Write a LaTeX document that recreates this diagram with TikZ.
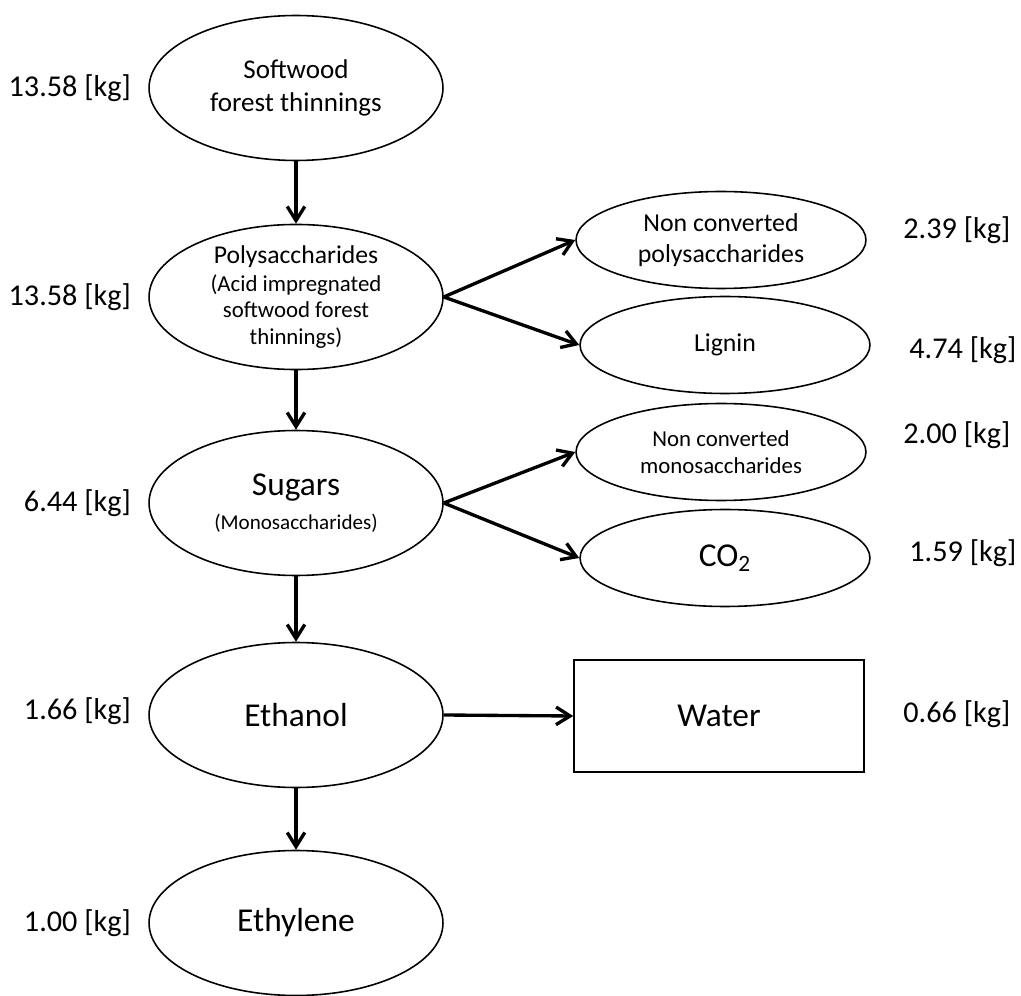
\documentclass[tikz,border=0pt]{standalone}
\usepackage{fontspec}
\setmainfont{Carlito}
\usetikzlibrary{positioning,shapes.geometric,arrows.meta}

\begin{document}
\begin{tikzpicture}[
  x=0.02cm, y=-0.02cm,
  stage/.style={draw, ellipse, line width=0.9pt, inner sep=0pt, minimum width=5.88cm, minimum height=2.9cm, align=center},
  side/.style={draw, ellipse, line width=0.9pt, inner sep=0pt, minimum width=5.8cm, minimum height=1.94cm, align=center},
  tank/.style={draw, rectangle, line width=0.9pt, inner sep=0pt, minimum width=5.8cm, minimum height=2.24cm},
  mass/.style={inner sep=0pt, font=\fontsize{17.2}{20}\selectfont},
  big/.style={font=\fontsize{19}{23}\selectfont},
  mid/.style={font=\fontsize{14.7}{18}\selectfont},
  small/.style={font=\fontsize{13}{15.5}\selectfont},
  arrow/.style={-{Straight Barb[length=8pt,width=10pt]}, line width=1.9pt}
]
\useasboundingbox (0,0) rectangle (1021,996);

% Main chain
\node[stage, font=\fontsize{15.4}{19}\selectfont] (soft) at (296,88) {Softwood\\forest thinnings};
\node[stage, font=\fontsize{13}{15}\selectfont] (poly) at (296,297)
  {\fontsize{14.6}{17}\selectfont Polysaccharides\\[1pt]
   (Acid impregnated\\softwood forest\\thinnings)};
\node[stage, font=\fontsize{12}{19.5}\selectfont] (sugar) at (296,503)
  {\fontsize{19}{23}\selectfont Sugars\\(Monosaccharides)};
\node[stage, big] (eth) at (296,715) {Ethanol};
\node[stage, big] (ethyl) at (296,923) {Ethylene};

% Side streams
\node[side, mid] (ncp) at (721,240) {Non converted\\polysaccharides};
\node[side, mid] (lig) at (725,345) {Lignin};
\node[side, small] (nmc) at (721,452) {Non converted\\monosaccharides};
\node[side, big] (co2) at (725,558) {CO\textsubscript{2}};
\node[tank, big] (water) at (719,716) {Water};

% Masses
\node[mass, left=0.34cm of soft] (msoft) {13.58 [kg]};
\node[mass, left=0.34cm of poly] (mpoly) {13.58 [kg]};
\node[mass, left=0.34cm of sugar] (msugar) {6.44 [kg]};
\node[mass, left=0.34cm of eth, yshift=2pt] (meth) {1.66 [kg]};
\node[mass, left=0.34cm of ethyl] (methyl) {1.00 [kg]};
\node[mass, anchor=west] (mncp) at (903,230) {2.39 [kg]};
\node[mass, anchor=west] (mlig) at (909,350) {4.74 [kg]};
\node[mass, anchor=west] (mnmc) at (903,435) {2.00 [kg]};
\node[mass, anchor=west] (mco2) at (909,553) {1.59 [kg]};
\node[mass, anchor=west] (mwater) at (903,714) {0.66 [kg]};

% Arrows
\draw[arrow] (soft.south) -- (poly.north);
\draw[arrow] (poly.south) -- (sugar.north);
\draw[arrow] (sugar.south) -- (eth.north);
\draw[arrow] (eth.south) -- (ethyl.north);
\draw[arrow] (poly.east) -- (ncp.west);
\draw[arrow] (poly.east) -- (lig.west);
\draw[arrow] (sugar.east) -- (nmc.west);
\draw[arrow] (sugar.east) -- (co2.west);
\draw[arrow] (eth.east) -- (water.west);

\end{tikzpicture}
\end{document}
